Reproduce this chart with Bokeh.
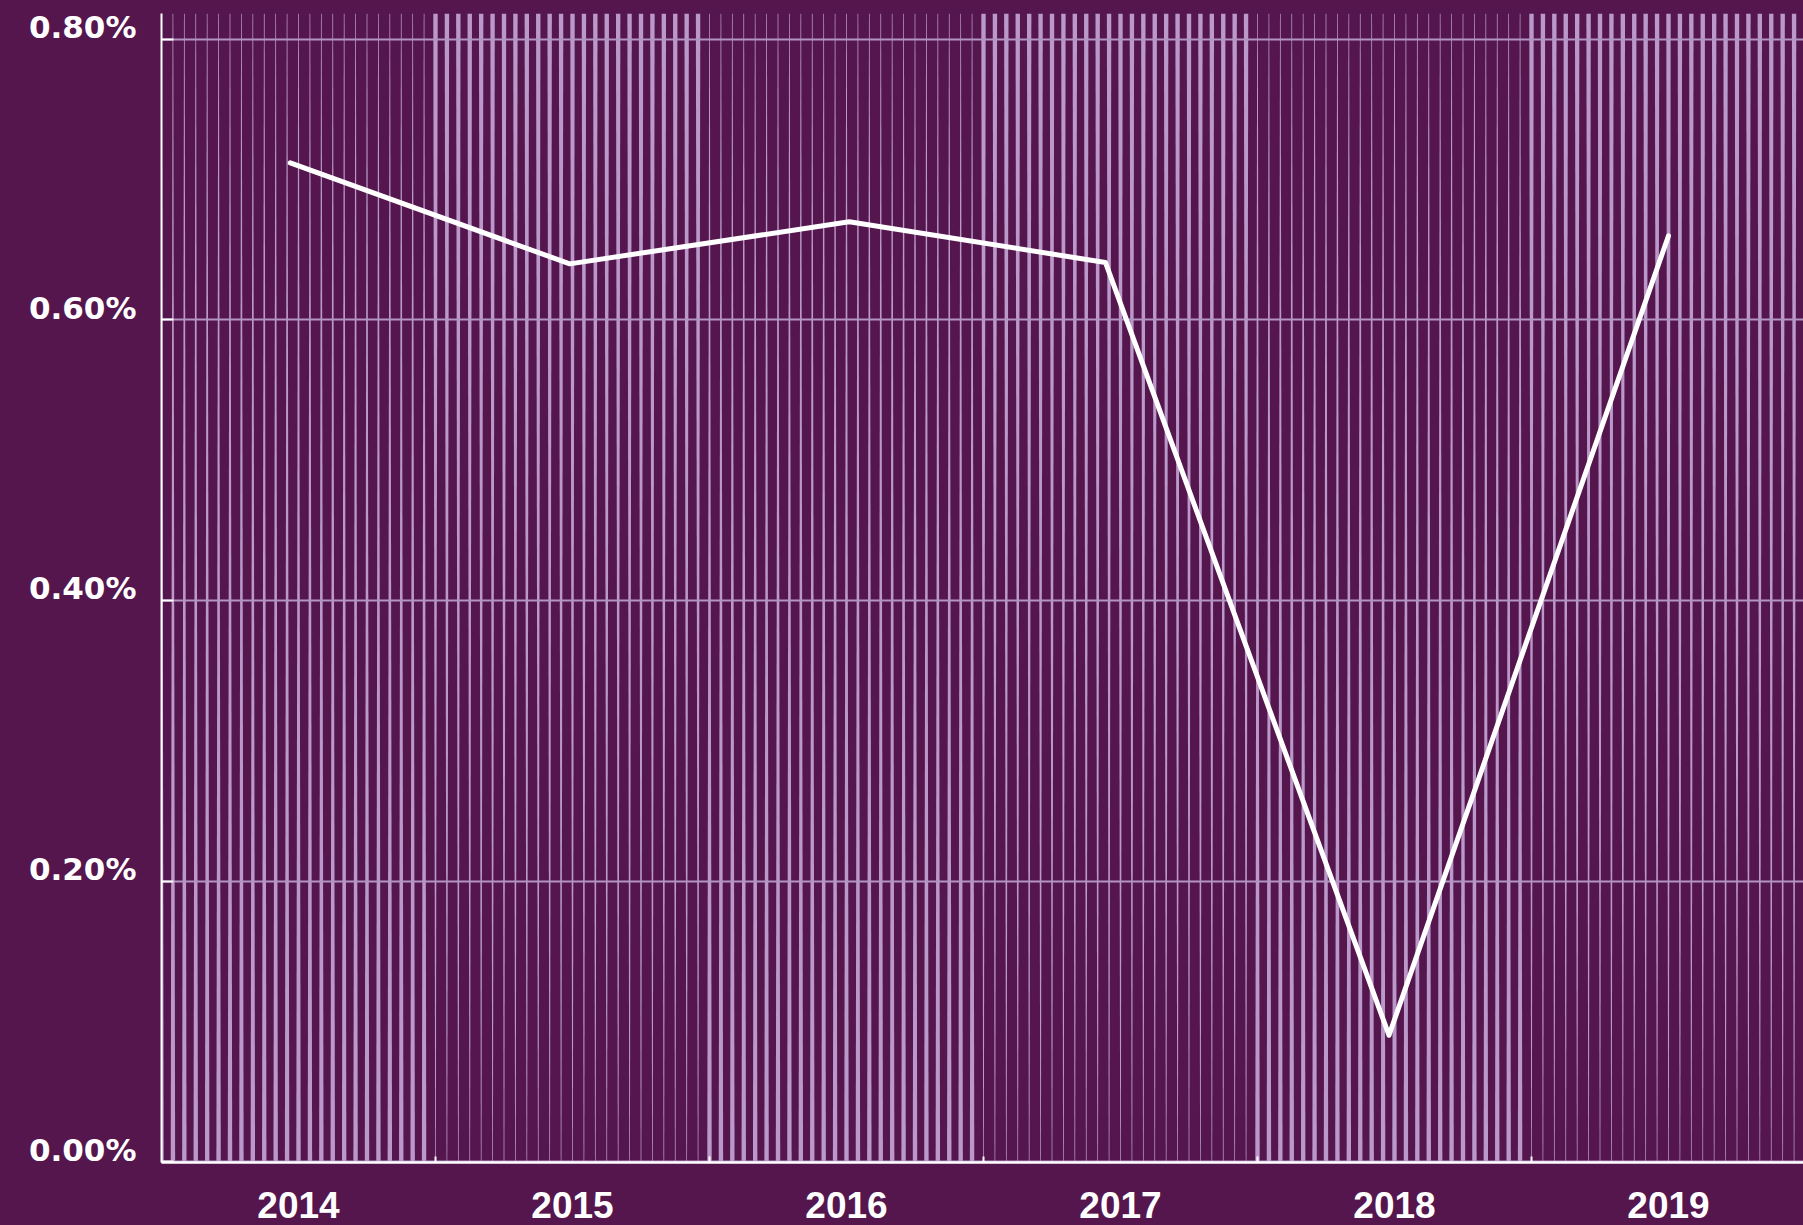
import numpy as np
from bokeh.plotting import figure
from bokeh.models import Range1d, LinearAxis, FixedTicker, PrintfTickFormatter
from bokeh.embed import file_html
from bokeh.resources import INLINE

# ---- data ----
years = [2014, 2015, 2016, 2017, 2018, 2019]
point_x = [2013.97, 2014.99, 2016.01, 2016.945, 2017.98, 2019.0]   # observation dates (decimal years)
rate_pct = [0.712, 0.640, 0.670, 0.641, 0.090, 0.660]
y_ticks = [0.0, 0.2, 0.4, 0.6, 0.8]

# ---- style ----
BG = "#55164e"
STRIPE = "#ba99ca"
GRID = "#b294c2"
WHITE = "#ffffff"

W, H = 1803, 1225
LEFT, TOP, BOTTOM = 161, 13, 63
PX_PER_YEAR = 274.0
x_start = years[0] - 0.5
x_end = x_start + (W - LEFT) / PX_PER_YEAR
y_start, y_end = -0.0007, 0.8185

p = figure(width=W, height=H, output_backend="svg", toolbar_location=None,
           x_range=Range1d(x_start, x_end), y_range=Range1d(y_start, y_end),
           min_border_left=LEFT, min_border_right=0, min_border_top=TOP, min_border_bottom=BOTTOM,
           background_fill_color=BG, border_fill_color=BG, outline_line_color=None)

# ---- striped background (decorative, alternating taper per year band) ----
n_stripes = 24
thin = 0.7 / PX_PER_YEAR
thick = 4.4 / PX_PER_YEAR
xs, ys = [], []
for i, yr in enumerate(years):
    for k in range(n_stripes):
        c = yr - 0.5 + k / n_stripes
        wt, wb = (thin, thick) if i % 2 == 0 else (thick, thin)
        xs.append([c - wt / 2, c + wt / 2, c + wb / 2, c - wb / 2])
        ys.append([y_end, y_end, y_start, y_start])
sr = p.patches(xs, ys, fill_color=STRIPE, line_color=None)
sr.level = "image"

# ---- grid ----
p.xgrid.visible = False
p.ygrid.ticker = FixedTicker(ticks=y_ticks)
p.ygrid.grid_line_color = GRID
p.ygrid.grid_line_width = 2

# ---- main axes (lines + ticks) ----
xa = p.below[0]
bounds = [(a + b) / 2 for a, b in zip(years[:-1], years[1:])]
xa.ticker = FixedTicker(ticks=bounds)
xa.major_label_overrides = {b: "" for b in bounds}
xa.major_label_standoff = 0
xa.axis_line_color = WHITE
xa.axis_line_width = 2.5
xa.major_tick_line_color = WHITE
xa.major_tick_line_width = 2
xa.major_tick_in = 6
xa.major_tick_out = 0
xa.minor_tick_line_color = None

ya = p.left[0]
ya.ticker = FixedTicker(ticks=y_ticks)
ya.major_label_overrides = {t: "" for t in y_ticks}
ya.major_label_standoff = 0
ya.axis_line_color = WHITE
ya.axis_line_width = 2
ya.major_tick_line_color = WHITE
ya.major_tick_line_width = 2
ya.major_tick_in = 12
ya.major_tick_out = 0
ya.minor_tick_line_color = None

# ---- label axes ----
d = 12 / 1402.5
p.extra_y_ranges = {"lbl": Range1d(y_start - d, y_end - d)}
yl = LinearAxis(y_range_name="lbl", ticker=FixedTicker(ticks=y_ticks),
                formatter=PrintfTickFormatter(format="%.2f%%"),
                axis_line_color=None, major_tick_line_color=None, minor_tick_line_color=None,
                major_tick_in=0, major_tick_out=0, major_label_standoff=25,
                major_label_text_color=WHITE, major_label_text_font="DejaVu Sans",
                major_label_text_font_style="bold", major_label_text_font_size="31px")
p.add_layout(yl, "left")

xl = LinearAxis(ticker=FixedTicker(ticks=years), formatter=PrintfTickFormatter(format="%d"),
                axis_line_color=None, major_tick_line_color=None, minor_tick_line_color=None,
                major_tick_in=0, major_tick_out=0, major_label_standoff=29,
                major_label_text_color=WHITE, major_label_text_font="Liberation Sans",
                major_label_text_font_style="bold", major_label_text_font_size="37px")
p.add_layout(xl, "below")

# ---- data line ----
p.line(point_x, rate_pct, line_color=WHITE, line_width=5, line_cap="round", line_join="round")

html = file_html(p, INLINE, title="chart")
html = html.replace("<head>", "<head><style>html,body{background:#55164e;}</style>", 1)
open("out.html", "w").write(html)
